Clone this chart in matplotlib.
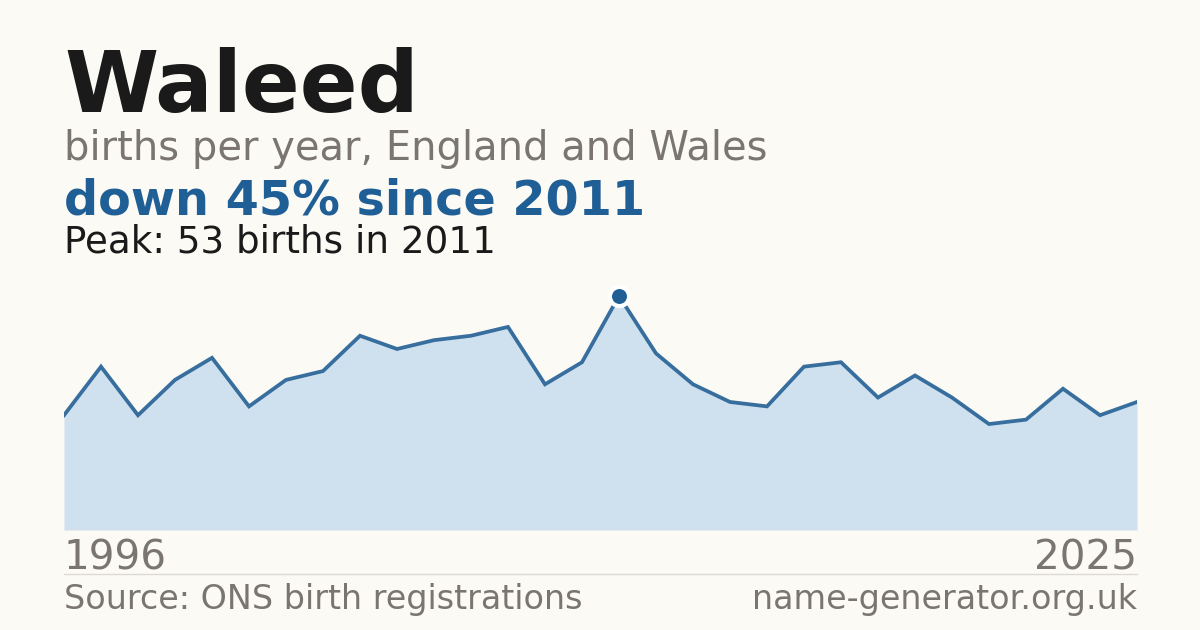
import matplotlib
matplotlib.use("Agg")
import matplotlib.pyplot as plt
from matplotlib.lines import Line2D

years = list(range(1996, 2026))
births = [26, 37, 26, 34, 39, 28, 34, 36, 44, 41, 43, 44, 46, 33, 38,
          53, 40, 33, 29, 28, 37, 38, 30, 35, 30, 24, 25, 32, 26, 29]
title = "Waleed"
subtitle = "births per year, England and Wales"
headline = "down 45% since 2011"
peak_note = "Peak: 53 births in 2011"
source = "Source: ONS birth registrations"
site = "name-generator.org.uk"

W, H = 1200, 630
BG = "#fbfaf5"
BLUE = "#1f5f96"
GREY = "#7a766f"
DARK = "#1a1a1a"

plt.rcParams['font.family'] = ['DejaVu Sans']
fig = plt.figure(figsize=(W / 100, H / 100), dpi=100, facecolor=BG)

def fy(px):
    return 1 - px / H

def fx(px):
    return px / W

left, right = 64, 1137
bottom, top = 530, 296
ax = fig.add_axes([fx(left), fy(bottom), (right - left) / W, (bottom - top) / H])
ax.set_facecolor(BG)
ax.patch.set_alpha(0)
ax.fill_between(years, births, 0, color="#cfe0ef", linewidth=0)
ax.plot(years, births, color="#2d6799", linewidth=2.7, solid_joinstyle="miter", alpha=0.95)
pk = births.index(max(births))
ax.plot([years[pk]], [births[pk]], 'o', color=BLUE, markersize=13.8,
        markeredgecolor="white", markeredgewidth=3, clip_on=False, zorder=5)
ax.axhline(0, color="#dcd9d2", linewidth=1.0)
ax.set_xlim(years[0], years[-1])
ax.set_ylim(0, max(births))
ax.axis("off")

fig.text(fx(64), fy(111.7), title, fontsize=61.5, fontweight="bold", color=DARK, va="baseline")
fig.text(fx(64), fy(160), subtitle, fontsize=28.8, color=GREY, va="baseline")
fig.text(fx(64), fy(214.3), headline, fontsize=34.4, fontweight="bold", color=BLUE, va="baseline")
fig.text(fx(64), fy(252.7), peak_note, fontsize=26.8, color=DARK, va="baseline")

fig.text(fx(64), fy(569), str(years[0]), fontsize=29.2, color=GREY, va="baseline", ha="left")
fig.text(fx(1137), fy(569), str(years[-1]), fontsize=29.2, color=GREY, va="baseline", ha="right")

fig.add_artist(Line2D([fx(64), fx(1137)], [fy(574), fy(574)], color="#dedad2", linewidth=1.0))

fig.text(fx(64), fy(609), source, fontsize=24, color=GREY, va="baseline", ha="left")
fig.text(fx(1137), fy(609), site, fontsize=24, color=GREY, va="baseline", ha="right")

fig.savefig("out.png", dpi=100, facecolor=BG)
